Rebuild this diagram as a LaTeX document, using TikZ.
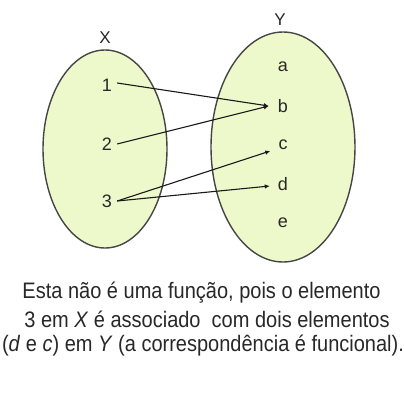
\documentclass[tikz,border=0pt]{standalone}
\usepackage{fontspec}
\setmainfont{Liberation Sans}
\usetikzlibrary{arrows.meta,calc}
\definecolor{setfill}{RGB}{237,248,203}
\definecolor{setline}{RGB}{70,70,70}
\definecolor{txt}{RGB}{40,40,40}
\tikzset{
  setshape/.style={draw=setline,fill=setfill,line width=1.4bp},
  lbl/.style={font=\fontsize{17bp}{19bp}\selectfont,text=txt,inner sep=0pt},
  elem/.style={font=\fontsize{18bp}{20bp}\selectfont,text=txt,inner xsep=5bp,inner ysep=0pt},
  captext/.style={font=\fontsize{20bp}{22bp}\selectfont,text=txt,anchor=base,inner sep=0pt},
  mapto/.style={draw=black!90,line width=1.1bp,-{Latex[length=5bp,width=4.5bp]}}
}
\newcommand{\tallline}[1]{\scalebox{1}[1.12]{#1}}
\begin{document}
\begin{tikzpicture}[x=1bp,y=-1bp]
\useasboundingbox[fill=white] (0,0) rectangle (404,403);
\draw[setshape] (105,149) ellipse [x radius=62, y radius=99];
\draw[setshape] (283,147) ellipse [x radius=72, y radius=115];
\node[lbl] (X) at (105,38) {X};
\node[lbl] (Y) at (280,20) {Y};
\node[elem] (n1) at (107,85) {1};
\node[elem] (n2) at (107,144) {2};
\node[elem] (n3) at (107,201) {3};
\node[elem,inner xsep=8bp] (la) at (283,67) {a};
\node[elem,inner xsep=8bp] (lb) at (283,106) {b};
\node[elem,inner xsep=8bp] (lc) at (283,145) {c};
\node[elem,inner xsep=8bp] (ld) at (283,184) {d};
\node[elem,inner xsep=8bp] (le) at (283,223) {e};
\draw[mapto] ($(n1.east)+(0,-2)$) -- ($(lb.west)+(-1,0)$);
\draw[mapto] (n2.east) -- ($(lb.west)+(-1,0)$);
\draw[mapto] (n3.east) -- ($(lc.west)+(0,6)$);
\draw[mapto] (n3.east) -- ($(ld.west)+(0,2)$);
\node[captext] (c1) at (201.5,298) {\tallline{Esta não é uma função, pois o elemento}};
\node[captext] (c2) at (207,327) {\tallline{3 em \textit{X} é associado\ \ com dois elementos}};
\node[captext] (c3) at (203,351) {\tallline{(\textit{d} e \textit{c}) em \textit{Y} (a correspondência é funcional).}};
\end{tikzpicture}
\end{document}
